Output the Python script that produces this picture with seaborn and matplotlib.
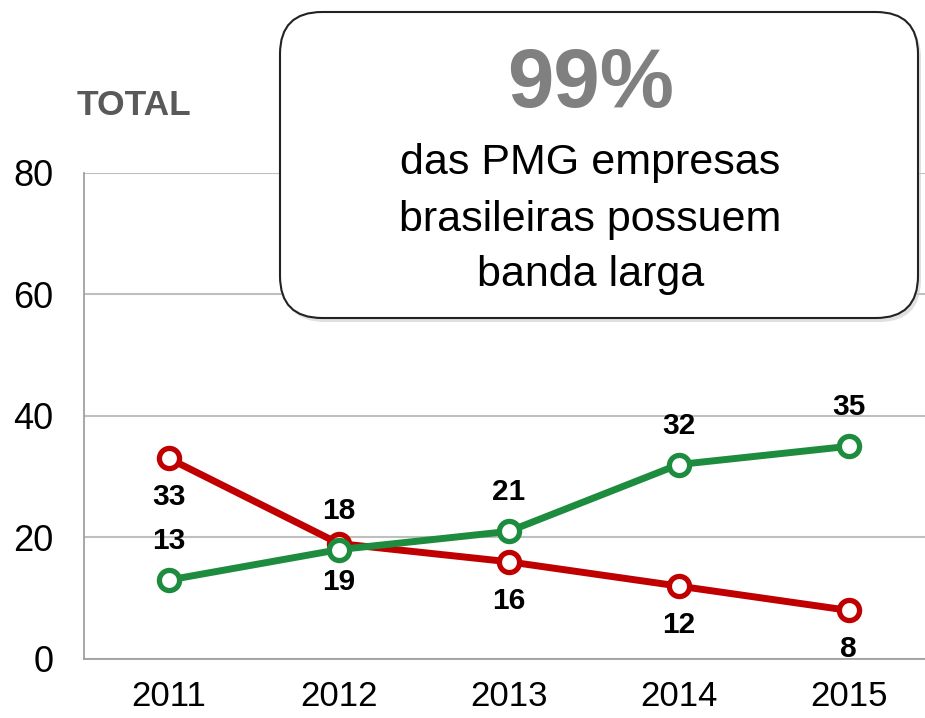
import pandas as pd
import matplotlib.pyplot as plt
import seaborn as sns
from matplotlib.patches import FancyBboxPatch

anos = ["2011", "2012", "2013", "2014", "2015"]
verde = [13, 18, 21, 32, 35]
vermelho = [33, 19, 16, 12, 8]
y_ticks = [0, 20, 40, 60, 80]

COR_VERDE = "#1E8C3E"
COR_VERMELHO = "#C00000"

df = pd.DataFrame({
    "ano": anos * 2,
    "valor": verde + vermelho,
    "serie": ["verde"] * len(anos) + ["vermelho"] * len(anos),
})

sns.set_style("white")
plt.rcParams["font.family"] = ["Liberation Sans", "DejaVu Sans"]
plt.rcParams["text.color"] = "black"

fig = plt.figure(figsize=(9.25, 7.18), dpi=100)
ax = fig.add_axes([0.0908, 0.0822, 0.9092, 0.677])

sns.lineplot(data=df, x="ano", y="valor", hue="serie", sort=False,
             palette={"verde": COR_VERDE, "vermelho": COR_VERMELHO},
             hue_order=["vermelho", "verde"],
             linewidth=5, marker="o", markersize=14.5,
             markerfacecolor="white", markeredgewidth=3.8,
             legend=False, ax=ax, zorder=3)
for ln in ax.lines:
    ln.set_markeredgecolor(ln.get_color())

# rótulos de dados
for i, (v, r) in enumerate(zip(verde, vermelho)):
    ax.annotate(str(v), (i, v), xytext=(0, 28), textcoords="offset points",
                ha="center", va="center", fontsize=21.5, fontweight="bold",
                color="black")
    ax.annotate(str(r), (i, r), xytext=(0, -28), textcoords="offset points",
                ha="center", va="center", fontsize=21.5, fontweight="bold",
                color="black")

ax.set_xlim(-0.5, 4.45)
ax.set_ylim(0, 80)
ax.set_yticks(y_ticks)
ax.set_yticklabels([str(t) for t in y_ticks], fontsize=26, color="black")
ax.set_xticks(range(len(anos)))
ax.set_xticklabels(anos, fontsize=25, color="black")
ax.set_xticks([i - 0.5 for i in range(len(anos))], minor=True)
ax.tick_params(axis="x", which="major", length=0, pad=15)
ax.tick_params(axis="x", which="minor", length=8, color="#A0A0A0", width=1.3)
ax.tick_params(axis="y", length=8, color="#A0A0A0", width=1.3, pad=14)
ax.set_xlabel("")
ax.set_ylabel("")
ax.grid(axis="y", color="#BFBFBF", linewidth=1.5)
ax.set_axisbelow(True)
for s in ["top", "right"]:
    ax.spines[s].set_visible(False)
for s in ["left", "bottom"]:
    ax.spines[s].set_color("#A0A0A0")
    ax.spines[s].set_linewidth(1.3)

fig.text(0.083, 0.853, "TOTAL", fontsize=25.5, fontweight="bold",
         color="#595959", ha="left", va="center")

# caixa de destaque
sombra = FancyBboxPatch((2.83, 3.96), 6.38, 3.06,
                        boxstyle="round,pad=0,rounding_size=0.42",
                        transform=fig.dpi_scale_trans, facecolor="#CCCCCC",
                        edgecolor="none", zorder=9, alpha=0.6)
caixa = FancyBboxPatch((2.80, 4.00), 6.38, 3.06,
                       boxstyle="round,pad=0,rounding_size=0.42",
                       transform=fig.dpi_scale_trans, facecolor="white",
                       edgecolor="#222222", linewidth=1.5, zorder=10)
fig.patches.extend([sombra, caixa])
fig.text(0.638, 0.882, "99%", fontsize=60, fontweight="bold", color="#808080",
         ha="center", va="center", zorder=11)
for y, linha in zip([0.773, 0.694, 0.617],
                    ["das PMG empresas", "brasileiras possuem", "banda larga"]):
    fig.text(0.638, y, linha, fontsize=31, color="black",
             ha="center", va="center", zorder=11)

fig.savefig("out.png", dpi=100)
